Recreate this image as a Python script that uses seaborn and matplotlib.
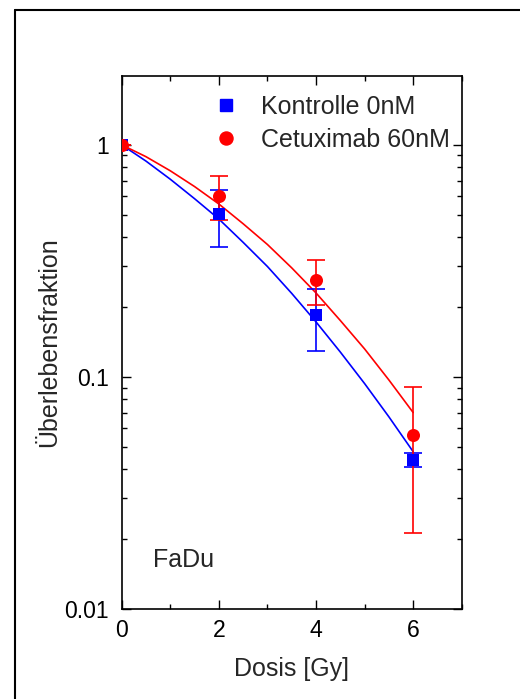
import numpy as np
import pandas as pd
import matplotlib
matplotlib.use("Agg")
import matplotlib.pyplot as plt
from matplotlib.lines import Line2D
from matplotlib.ticker import MultipleLocator, LogLocator, NullFormatter, FixedLocator, FixedFormatter
import seaborn as sns

dose = [0, 2, 4, 6]
ctrl_sf = [1.0, 0.503, 0.184, 0.0439]
ctrl_lo = [1.0, 0.362, 0.129, 0.041]
ctrl_hi = [1.0, 0.640, 0.239, 0.0469]
cetux_sf = [1.0, 0.603, 0.262, 0.0561]
cetux_lo = [1.0, 0.472, 0.204, 0.0213]
cetux_hi = [1.0, 0.735, 0.319, 0.0906]

# fitted curves
fit_dose = [0, 0.5, 1, 1.5, 2, 2.5, 3, 3.5, 4, 4.5, 5, 5.5, 6]
ctrl_fit = [1.0, 0.851, 0.711, 0.586, 0.479, 0.380, 0.299, 0.229, 0.1726,
            0.128, 0.0936, 0.0673, 0.0476]
cetux_fit = [1.0, 0.889, 0.773, 0.661, 0.556, 0.457, 0.372, 0.295, 0.230,
             0.175, 0.132, 0.0970, 0.0702]

labels = ["Kontrolle 0nM", "Cetuximab 60nM"]
colors = ["#0000ff", "#ff0000"]

sns.set_theme(style="ticks")
plt.rcParams["font.family"] = ["Liberation Sans", "DejaVu Sans"]

fig = plt.figure(figsize=(5.2, 6.99), dpi=100)
ax = fig.add_axes([0.234, 0.1288, 0.654, 0.7625])

# fitted lines
fits = pd.DataFrame({
    "dose": fit_dose * 2,
    "sf": ctrl_fit + cetux_fit,
    "grp": [labels[0]] * len(fit_dose) + [labels[1]] * len(fit_dose),
})
sns.lineplot(data=fits, x="dose", y="sf", hue="grp", palette=colors,
             linewidth=1.2, legend=False, ax=ax, sort=False)

# error bars
for sf, lo, hi, c in [(ctrl_sf, ctrl_lo, ctrl_hi, colors[0]),
                      (cetux_sf, cetux_lo, cetux_hi, colors[1])]:
    sf = np.array(sf)
    yerr = [sf - np.array(lo), np.array(hi) - sf]
    ax.errorbar(dose, sf, yerr=yerr, fmt="none", ecolor=c, elinewidth=1.2,
                capsize=6.8, capthick=1.2)

# points
pts = pd.DataFrame({
    "dose": dose * 2,
    "sf": ctrl_sf + cetux_sf,
    "grp": [labels[0]] * len(dose) + [labels[1]] * len(dose),
})
sns.scatterplot(data=pts[pts.grp == labels[0]], x="dose", y="sf", color=colors[0],
                marker="s", s=64, linewidth=0, ax=ax, zorder=3)
sns.scatterplot(data=pts[pts.grp == labels[1]], x="dose", y="sf", color=colors[1],
                marker="o", s=88, linewidth=0, ax=ax, zorder=3)

ax.set_yscale("log")
ax.set_xlim(0, 7)
ax.set_ylim(0.01, 1.98)
ax.xaxis.set_major_locator(FixedLocator([0, 2, 4, 6]))
ax.xaxis.set_minor_locator(MultipleLocator(1))
ax.yaxis.set_major_locator(FixedLocator([0.01, 0.1, 1]))
ax.yaxis.set_major_formatter(FixedFormatter(["0.01", "0.1", "1"]))
ax.yaxis.set_minor_locator(LogLocator(base=10, subs=np.arange(2, 10)))
ax.yaxis.set_minor_formatter(NullFormatter())

for sp in ax.spines.values():
    sp.set_visible(True)
    sp.set_linewidth(1.2)
    sp.set_color("black")
ax.tick_params(which="both", direction="in", top=True, right=True,
               colors="black", labelsize=16.6, width=1.0)
ax.tick_params(which="major", length=6.5)
ax.tick_params(which="minor", length=3.6)
ax.tick_params(axis="x", which="major", pad=7)
ax.tick_params(axis="y", which="major", pad=9.3)

ax.set_xlabel("Dosis [Gy]", fontsize=18, labelpad=11)
ax.set_ylabel("Überlebensfraktion", fontsize=18, labelpad=2)
ax.text(0.091, 0.0785, "FaDu", transform=ax.transAxes, fontsize=18)

handles = [
    Line2D([], [], linestyle="none", marker="s", markersize=8.0, color=colors[0]),
    Line2D([], [], linestyle="none", marker="o", markersize=9.4, color=colors[1]),
]
ax.legend(handles, labels, loc="upper right", bbox_to_anchor=(0.966, 0.965),
          frameon=False, fontsize=18, handlelength=1.0, handletextpad=0.9,
          labelspacing=0.38, borderpad=0, borderaxespad=0)

# outer frame (runs off the right and bottom edge)
fx = 15 / 520
fy = 1 - 10 / 699
fig.add_artist(Line2D([fx, fx], [0, fy], color="black", linewidth=1.5))
fig.add_artist(Line2D([fx, 1], [fy, fy], color="black", linewidth=1.5))

fig.savefig("out.png", dpi=100)
